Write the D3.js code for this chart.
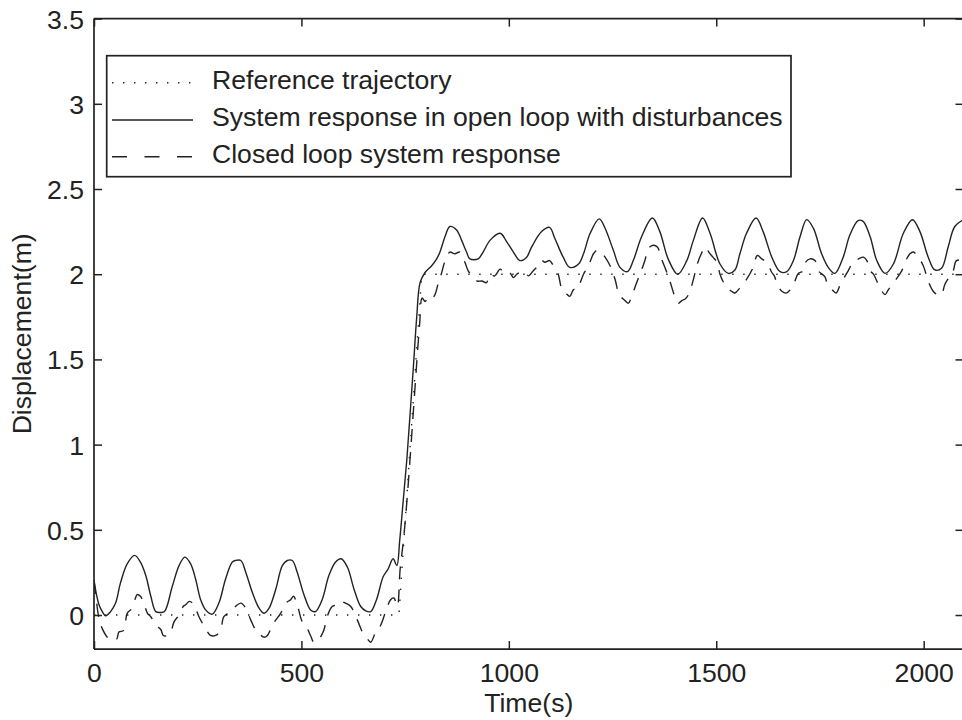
<!DOCTYPE html>
<html><head><meta charset="utf-8">
<script src="https://cdn.jsdelivr.net/npm/d3@7"></script>
<style>body{margin:0;background:#fff}svg{display:block}text{font-family:"Liberation Sans",Arial,sans-serif;fill:#222}</style>
</head><body>
<svg id="c" width="962" height="720"></svg>
<script>
const xTicks = [0, 500, 1000, 1500, 2000];
const yTicks = [0, 0.5, 1, 1.5, 2, 2.5, 3, 3.5];
const legendLabels = ["Reference trajectory", "System response in open loop with disturbances", "Closed loop system response"];

const refT = [0, 735, 790, 2096];
const refY = [0, 0, 2, 2];

const openT = [0,6,12,20,28,40,52,64,80,98,112,125,137,149,161,170,189,205,219,233,245,257,269,285,301,317,333,341,354,366,382,398,410,422,438,454,466,478,490,506,522,534,550,566,582,596,611,627,643,655,667,681,697,709,721,730,737,745,754,762,770,778,786,798,814,826,834,846,858,874,886,898,906,926,938,955,979,995,1011,1027,1043,1055,1079,1098,1111,1131,1147,1168,1180,1196,1218,1232,1252,1268,1286,1300,1320,1346,1364,1384,1407,1429,1445,1467,1485,1509,1529,1545,1557,1573,1596,1613,1634,1654,1670,1686,1702,1718,1734,1754,1770,1786,1806,1822,1842,1854,1871,1887,1907,1927,1951,1973,1991,2011,2027,2043,2059,2075,2096];
const openY = [0.205,0.12,0.06,0.02,-0.005,0.02,0.07,0.19,0.30,0.35,0.31,0.23,0.11,0.02,0.015,0.02,0.17,0.29,0.34,0.30,0.21,0.09,0.03,0.005,0.07,0.21,0.31,0.32,0.32,0.25,0.13,0.04,0.01,0.04,0.15,0.29,0.32,0.32,0.25,0.12,0.03,0.02,0.09,0.23,0.31,0.33,0.28,0.15,0.05,0.025,0.02,0.09,0.225,0.27,0.33,0.29,0.44,0.66,0.91,1.18,1.46,1.75,1.95,2.01,2.05,2.09,2.13,2.22,2.28,2.26,2.20,2.13,2.09,2.09,2.13,2.20,2.24,2.19,2.13,2.08,2.10,2.16,2.25,2.275,2.21,2.10,2.04,2.06,2.12,2.24,2.325,2.27,2.14,2.04,2.015,2.08,2.22,2.33,2.25,2.09,2.0,2.08,2.20,2.33,2.24,2.06,2.005,2.025,2.12,2.24,2.33,2.25,2.10,2.015,2.015,2.08,2.22,2.32,2.27,2.12,2.04,2.005,2.10,2.23,2.315,2.31,2.22,2.08,2.005,2.06,2.24,2.32,2.25,2.10,2.025,2.035,2.16,2.28,2.32];

const closedT = [0,5,12,20,32,45,55,60,72,80,92,100,104,112,120,129,137,149,161,167,177,185,193,205,215,221,230,241,253,269,281,293,305,313,329,341,354,366,378,390,398,410,418,430,438,450,462,474,481,490,502,512,522,530,540,546,554,562,574,586,594,606,619,635,647,659,667,679,691,703,715,723,731,738,746,754,762,770,778,785,791,798,805,812,822,829,837,845,852,858,870,882,894,902,910,917,924,935,946,954,966,979,991,1003,1011,1019,1027,1035,1041,1047,1059,1071,1079,1087,1098,1105,1119,1127,1137,1147,1156,1164,1172,1180,1192,1204,1212,1222,1232,1244,1256,1266,1278,1288,1296,1308,1316,1328,1336,1348,1358,1368,1384,1392,1400,1409,1417,1425,1433,1445,1453,1464,1474,1482,1492,1502,1509,1518,1527,1537,1545,1557,1573,1589,1599,1610,1621,1634,1640,1647,1658,1670,1686,1698,1710,1715,1726,1738,1746,1762,1768,1779,1789,1799,1818,1830,1843,1855,1863,1871,1879,1887,1897,1907,1915,1935,1947,1959,1967,1975,1987,1999,2011,2023,2033,2043,2051,2071,2079,2096];
const closedY = [0.2,0.1,-0.02,-0.08,-0.13,-0.15,-0.14,-0.10,-0.09,0.01,0.04,0.10,0.12,0.11,0.07,0.01,-0.01,-0.06,-0.085,-0.12,-0.12,-0.10,-0.04,0.0,0.05,0.06,0.08,0.06,-0.01,-0.08,-0.12,-0.12,-0.09,-0.01,0.02,0.05,0.07,0.04,-0.03,-0.09,-0.11,-0.13,-0.12,-0.06,-0.03,0.01,0.07,0.09,0.11,0.06,-0.04,-0.07,-0.12,-0.16,-0.15,-0.13,-0.09,-0.01,0.05,0.06,0.08,0.07,0.05,-0.03,-0.10,-0.14,-0.16,-0.10,-0.06,0.02,0.09,0.10,0.05,0.27,0.44,0.66,0.92,1.2,1.48,1.71,1.86,1.84,1.86,1.85,1.88,1.94,2.0,2.07,2.11,2.13,2.12,2.13,2.07,2.02,1.995,1.98,1.96,1.96,1.95,2.0,1.99,2.03,2.0,2.005,1.98,2.0,2.01,2.005,2.01,1.99,2.02,2.05,2.08,2.07,2.08,2.06,2.0,1.92,1.89,1.87,1.91,1.91,1.95,2.0,2.05,2.12,2.14,2.13,2.10,2.05,1.97,1.88,1.85,1.83,1.87,1.95,2.0,2.08,2.15,2.17,2.16,2.09,1.99,1.93,1.87,1.83,1.845,1.855,1.88,1.97,2.05,2.12,2.16,2.13,2.10,2.07,2.0,1.95,1.92,1.90,1.89,1.92,1.97,2.04,2.11,2.09,2.07,2.01,1.99,1.94,1.90,1.89,1.94,2.005,2.02,2.07,2.09,2.08,2.02,1.985,1.94,1.91,1.89,1.94,2.02,2.07,2.09,2.10,2.08,2.02,2.0,1.96,1.91,1.88,1.91,1.975,2.02,2.09,2.12,2.13,2.10,2.05,1.96,1.90,1.88,1.88,1.94,2.02,2.08,2.08];

const svg = d3.select("#c");
const L = 94, R = 963.5, T = 18.6, B = 649.1;
const x = d3.scaleLinear().domain([0, 2096]).range([L, R]);
const y = d3.scaleLinear().domain([-0.2, 3.5]).range([B, T]);
const ink = "#222";

svg.append("defs").append("clipPath").attr("id","clip").append("rect")
  .attr("x", L).attr("y", T).attr("width", R - L).attr("height", B - T);

const line = d3.line().x(d => x(d[0])).y(d => y(d[1])).curve(d3.curveCatmullRom.alpha(0.5));
const zip = (a, b) => a.map((v, i) => [v, b[i]]);
const plot = svg.append("g").attr("clip-path", "url(#clip)");

plot.append("path").datum(zip(refT, refY)).attr("d", d3.line().x(d => x(d[0])).y(d => y(d[1])))
  .attr("fill","none").attr("stroke", ink).attr("stroke-width", 1.4).attr("stroke-dasharray","1.4,9.6");
plot.append("path").datum(zip(closedT, closedY)).attr("d", line)
  .attr("fill","none").attr("stroke", ink).attr("stroke-width", 1.4).attr("stroke-dasharray","13,10");
plot.append("path").datum(zip(openT, openY)).attr("d", line)
  .attr("fill","none").attr("stroke", ink).attr("stroke-width", 1.4);

// axes
const fs = 26.6;
const axB = svg.append("g").attr("transform", `translate(0,${B})`)
  .call(d3.axisBottom(x).tickValues(xTicks).tickSize(-8).tickPadding(14).tickFormat(d3.format("d")));
const axT = svg.append("g").attr("transform", `translate(0,${T})`)
  .call(d3.axisTop(x).tickValues(xTicks).tickSize(-8).tickFormat(""));
const axL = svg.append("g").attr("transform", `translate(${L},0)`)
  .call(d3.axisLeft(y).tickValues(yTicks).tickSize(-8).tickPadding(10).tickFormat(d => d3.format("")(d)));
const axR = svg.append("g").attr("transform", `translate(${R},0)`)
  .call(d3.axisRight(y).tickValues(yTicks).tickSize(-8).tickFormat(""));
[axB, axT, axL, axR].forEach(a => {
  a.select(".domain").attr("stroke", ink).attr("stroke-width", 1.7);
  a.selectAll(".tick line").attr("stroke", ink).attr("stroke-width", 1.5);
  a.selectAll("text").attr("font-size", fs).attr("font-family", '"Liberation Sans",Arial,sans-serif').attr("fill", ink);
});
axB.selectAll(".domain").attr("d", `M${L},0H${R}`);
axT.selectAll(".domain").attr("d", `M${L},0H${R}`);
axL.selectAll(".domain").attr("d", `M0,${B}V${T}`);
axR.selectAll(".domain").attr("d", `M0,${B}V${T}`);
axL.selectAll("text").attr("dy", "0.36em");

svg.append("text").attr("x", (L + R) / 2).attr("y", 712).attr("text-anchor","middle")
  .attr("font-size", fs).text("Time(s)");
svg.append("text").attr("transform", `translate(31,${(T + B) / 2}) rotate(-90)`).attr("text-anchor","middle")
  .attr("font-size", fs).text("Displacement(m)");

// legend
const lg = svg.append("g");
lg.append("rect").attr("x", 106.7).attr("y", 55.7).attr("width", 791 - 106.7).attr("height", 176.7 - 55.7)
  .attr("fill", "#fff").attr("stroke", ink).attr("stroke-width", 1.7);
const rows = [82.7, 120, 156.7];
const dashes = ["1.4,9.6", null, "15,17.5"];
legendLabels.forEach((lab, i) => {
  const ln = lg.append("line").attr("x1", 112).attr("x2", 193).attr("y1", rows[i]).attr("y2", rows[i])
    .attr("stroke", ink).attr("stroke-width", 1.4);
  if (dashes[i]) ln.attr("stroke-dasharray", dashes[i]);
  lg.append("text").attr("x", 212).attr("y", rows[i] + 5.8).attr("font-size", fs).text(lab);
});
</script>
</body></html>
